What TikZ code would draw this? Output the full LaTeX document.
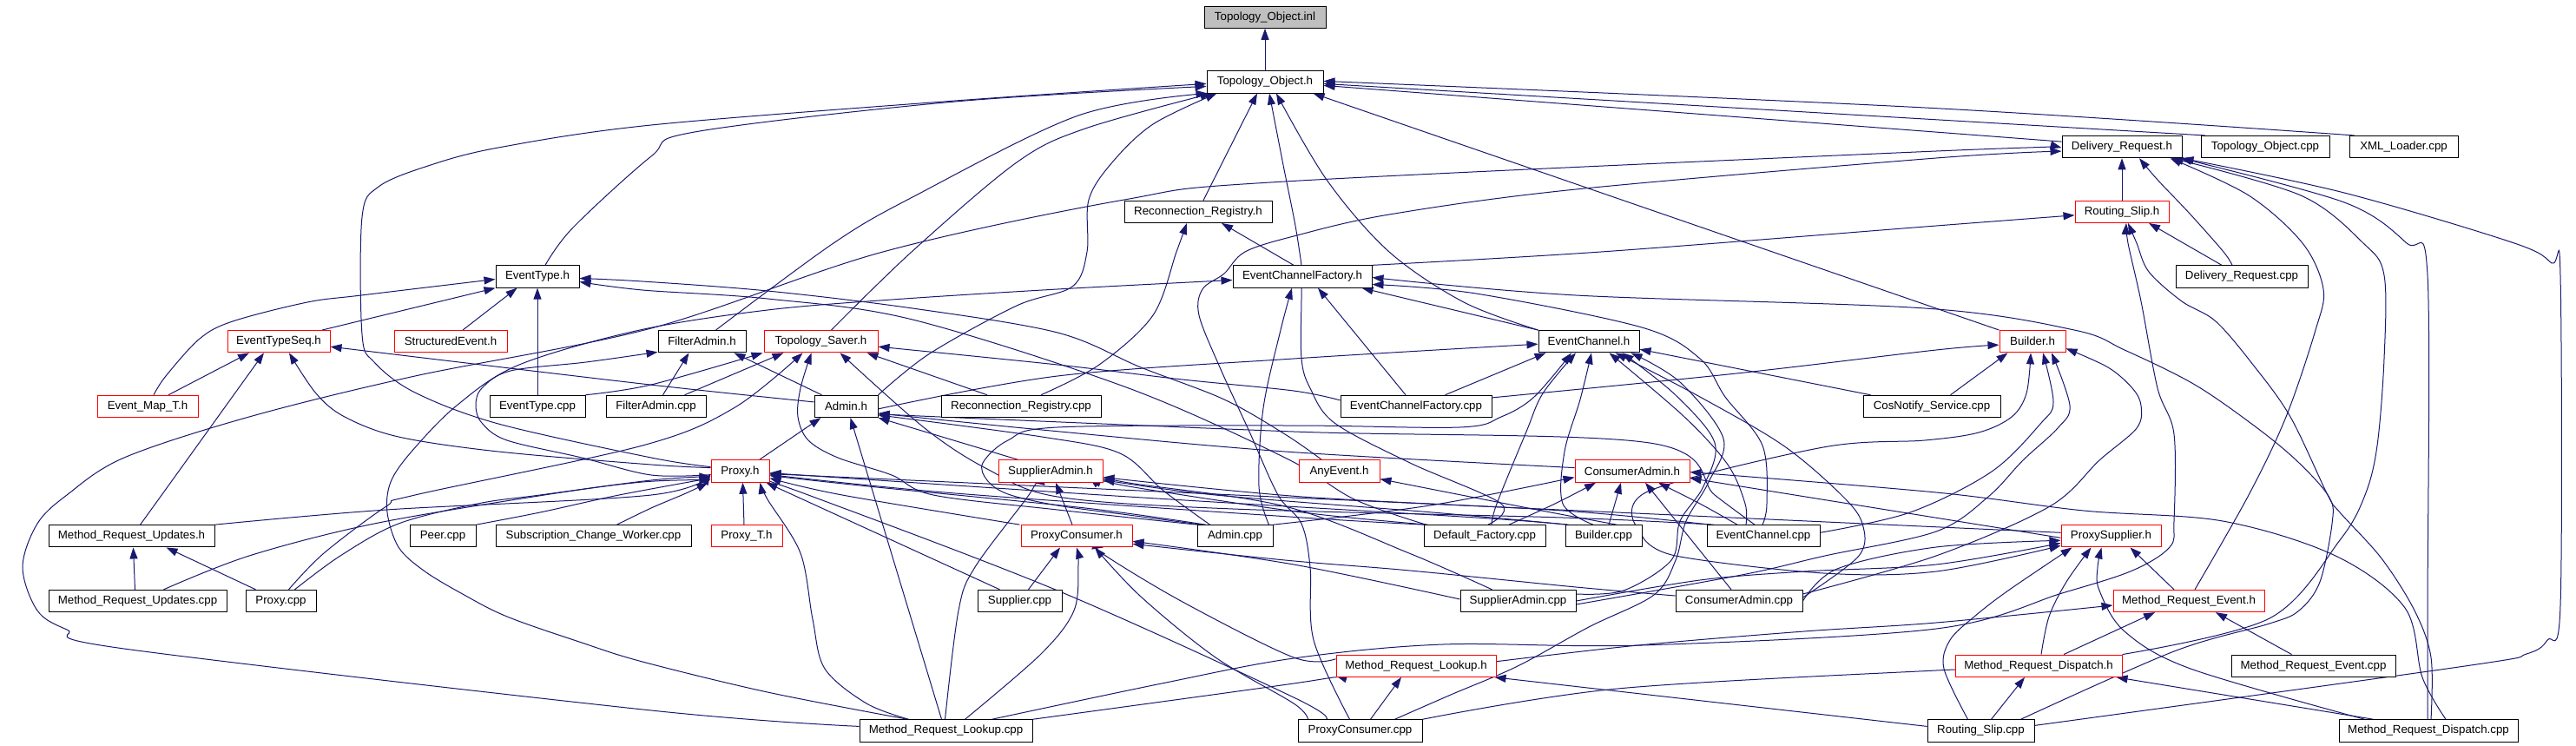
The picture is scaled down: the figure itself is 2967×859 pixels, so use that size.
\documentclass[tikz,border=0pt]{standalone}
\usepackage{fontspec}
\setmainfont{Liberation Sans}
\usetikzlibrary{arrows.meta}
\definecolor{edgec}{HTML}{191970}
\definecolor{rootfill}{HTML}{BFBFBF}
\pgfdeclarelayer{bg}
\pgfsetlayers{bg,main}
\tikzset{
  nb/.style={draw=black, line width=1pt, fill=white, minimum height=25.3pt, inner sep=0pt, font=\fontsize{13.3}{16}\selectfont},
  rb/.style={nb, draw=red},
  gb/.style={nb, fill=rootfill},
  e/.style={draw=edgec, line width=1pt, -{Triangle[length=13pt,width=9pt]}},
}
\newcommand\nd[6]{\node[#5, minimum width={(#3-#2)*1pt}] (#1) at ({(#2+#3)/2},{19.7+74.7*#4}) {#6};}
\newcommand\E[1]{\draw[e] plot[smooth,tension=0.55] coordinates {#1};}
\begin{document}
\begin{tikzpicture}[x=1pt,y=-1pt]
\useasboundingbox (0,0) rectangle (2967,859);
\nd{inl}{1387}{1527}{0}{gb}{Topology\_Object.inl}
\nd{toh}{1390}{1524}{1}{nb}{Topology\_Object.h}
\nd{drh}{2375}{2513}{2}{nb}{Delivery\_Request.h}
\nd{tocpp}{2535}{2683}{2}{nb}{Topology\_Object.cpp}
\nd{xml}{2706}{2831}{2}{nb}{XML\_Loader.cpp}
\nd{rrh}{1295}{1465}{3}{nb}{Reconnection\_Registry.h}
\nd{rsh}{2390}{2498}{3}{rb}{Routing\_Slip.h}
\nd{eth}{571}{667}{4}{nb}{EventType.h}
\nd{ecfh}{1420}{1580}{4}{nb}{EventChannelFactory.h}
\nd{drcpp}{2506}{2658}{4}{nb}{Delivery\_Request.cpp}
\nd{etsh}{262}{380}{5}{rb}{EventTypeSeq.h}
\nd{seh}{454}{584}{5}{rb}{StructuredEvent.h}
\nd{fah}{758}{859}{5}{nb}{FilterAdmin.h}
\nd{tsh}{880}{1011}{5}{rb}{Topology\_Saver.h}
\nd{ech}{1772}{1888}{5}{nb}{EventChannel.h}
\nd{bh}{2303}{2379}{5}{rb}{Builder.h}
\nd{emt}{112}{228}{6}{rb}{Event\_Map\_T.h}
\nd{etcpp}{564}{674}{6}{nb}{EventType.cpp}
\nd{facpp}{698}{813}{6}{nb}{FilterAdmin.cpp}
\nd{adh}{938}{1011}{6}{nb}{Admin.h}
\nd{rrcpp}{1084}{1268}{6}{nb}{Reconnection\_Registry.cpp}
\nd{ecfcpp}{1544}{1718}{6}{nb}{EventChannelFactory.cpp}
\nd{cns}{2146}{2304}{6}{nb}{CosNotify\_Service.cpp}
\nd{pxh}{819}{886}{7}{rb}{Proxy.h}
\nd{sah}{1150}{1270}{7}{rb}{SupplierAdmin.h}
\nd{aeh}{1496}{1589}{7}{rb}{AnyEvent.h}
\nd{cah}{1814}{1946}{7}{rb}{ConsumerAdmin.h}
\nd{mruh}{56}{247}{8}{nb}{Method\_Request\_Updates.h}
\nd{peer}{472}{548}{8}{nb}{Peer.cpp}
\nd{scw}{571}{796}{8}{nb}{Subscription\_Change\_Worker.cpp}
\nd{pxt}{819}{901}{8}{rb}{Proxy\_T.h}
\nd{pch}{1176}{1304}{8}{rb}{ProxyConsumer.h}
\nd{adcpp}{1379}{1466}{8}{nb}{Admin.cpp}
\nd{dfcpp}{1640}{1780}{8}{nb}{Default\_Factory.cpp}
\nd{bcpp}{1803}{1891}{8}{nb}{Builder.cpp}
\nd{eccpp}{1966}{2096}{8}{nb}{EventChannel.cpp}
\nd{psh}{2374}{2489}{8}{rb}{ProxySupplier.h}
\nd{mrucpp}{56}{261}{9}{nb}{Method\_Request\_Updates.cpp}
\nd{pxcpp}{283}{364}{9}{nb}{Proxy.cpp}
\nd{supcpp}{1126}{1223}{9}{nb}{Supplier.cpp}
\nd{sacpp}{1682}{1815}{9}{nb}{SupplierAdmin.cpp}
\nd{cacpp}{1930}{2076}{9}{nb}{ConsumerAdmin.cpp}
\nd{mreh}{2434}{2608}{9}{rb}{Method\_Request\_Event.h}
\nd{mrlh}{1539}{1723}{10}{rb}{Method\_Request\_Lookup.h}
\nd{mrdh}{2252}{2444}{10}{rb}{Method\_Request\_Dispatch.h}
\nd{mrecpp}{2570}{2759}{10}{nb}{Method\_Request\_Event.cpp}
\nd{mrlcpp}{990}{1189}{11}{nb}{Method\_Request\_Lookup.cpp}
\nd{pccpp}{1495}{1638}{11}{nb}{ProxyConsumer.cpp}
\nd{rscpp}{2220}{2343}{11}{nb}{Routing\_Slip.cpp}
\nd{mrdcpp}{2694}{2900}{11}{nb}{Method\_Request\_Dispatch.cpp}
\begin{pgfonlayer}{bg}
\fill[white] (0,0) rectangle (2967,859);
% to Topology_Object.inl / Topology_Object.h
\draw[e] (toh.north) -- (inl.south);
\draw[e] ([xshift=5pt]tocpp.north west) -- ([yshift=-2pt]toh.east);
\E{([xshift=6pt]xml.north west) (2217,124) ([yshift=1pt]toh.east)}
\draw[e] ([yshift=6pt]drh.west) -- ([yshift=-4pt]toh.east);
\draw[e] ([xshift=6pt]rrh.north) -- ([xshift=-9pt]toh.south);
\E{([xshift=-1pt]ecfh.north) (1492,260) (1478,190) ([xshift=5pt]toh.south)}
\E{(ech.north west) (1686,348) (1600,290) (1528,207) ([xshift=13pt]toh.south)}
\draw[e] (bh.north west) -- ([xshift=-12pt]toh.south east);
\E{([xshift=9pt]eth.north) (660,262) (750,180) (800,152) (1100,117) ([yshift=-5pt]toh.west)}
\E{([yshift=5pt]pxh.west) (750,527) (574,488) (478,452) (431,417) (417,385) (417,250) (436,215) (493,191) (574,170) (750,144) (1100,116) ([yshift=-2pt]toh.west)}
\E{([xshift=16pt]fah.north) (960,280) (1051,227) (1242,133) ([xshift=1pt]toh.south west)}
\E{([xshift=12pt]tsh.north) (1050,290) (1171,187) (1250,148) ([xshift=6pt]toh.south west)}
\E{(adh.north east) (1071,407) (1171,352) (1235,330) (1252,290) (1254,230) (1281,187) (1328,143) ([xshift=12pt]toh.south west)}
% to Delivery_Request.h
\draw[e] (rsh.north) -- (drh.south);
\E{([xshift=-11pt]drcpp.north) (2561,290) (2523,247) (2485,207) ([xshift=20pt]drh.south)}
\E{([xshift=7pt]mreh.north) (2590,570) (2633,480) (2667,380) (2676,333) (2652,280) (2590,225) ([xshift=-14pt]drh.south east)}
\E{(mrdh.north east) (2614,712) (2695,622) (2724,570) (2738,513) (2746,413) (2746,317) (2722,280) (2650,225) ([xshift=-12pt]drh.south east)}
\E{([xshift=-1pt]mrdcpp.north) (2796,700) (2796,317) (2772,280) (2700,233) ([xshift=-2pt]drh.south east)}
\E{([yshift=6pt]rscpp.east) (2839,767) (2910,753) (2934,737) (2949,697) (2949,318) (2939,303) (2896,280) (2700,222) (drh.south east)}
\E{([yshift=5pt]mrlcpp.west) (750,818) (143,747) (77,725) (43,703) (26,653) (43,603) (77,570) (143,527) (287,480) (478,433) (750,378) (1017,290) (1295,230) (1480,209) (2230,174) ([yshift=-1pt]drh.west)}
\E{([xshift=-12pt]pccpp.north) (1513,737) (1509,653) (1499,603) (1472,570) (1439,497) (1405,423) (1381,363) (1385,333) (1410,315) (1434,290) (1490,272) (1600,247) (1815,218) (2230,182) ([yshift=-5pt]drh.west)}
% to Reconnection_Registry.h
\E{([xshift=23pt]rrcpp.north) (1266,420) (1328,363) (1355,290) ([xshift=-13pt]rrh.south)}
\draw[e] ([xshift=-10pt]ecfh.north) -- ([xshift=27pt]rrh.south);
% to Routing_Slip.h
\E{(ecfh.north east) (1844,290) (2230,260) ([yshift=-4pt]rsh.west)}
\draw[e] ([xshift=-23pt]drcpp.north) -- ([xshift=31pt]rsh.south);
\E{([xshift=-47pt]mrlcpp.north east) (1338,787) (1490,758) (1662,742) (1891,743) (2230,724) (2375,683) (2456,657) (2499,630) (2504,600) (2504,500) (2485,447) (2466,347) (2451,280) ([xshift=5pt]rsh.south)}
\E{([xshift=3pt]mrdcpp.north) (2800,757) (2781,703) (2743,643) (2695,590) (2681,570) (2638,480) (2595,420) (2552,370) (2513,347) (2475,313) (2461,280) ([xshift=7pt]rsh.south)}
% to EventType.h
\E{([xshift=7pt]emt.north) (191,433) (230,390) (268,370) (354,348) (416,340) ([yshift=-3pt]eth.west)}
\draw[e] ([xshift=50pt]etsh.north) -- (eth.south west);
\draw[e] ([xshift=14pt]seh.north) -- ([xshift=25pt]eth.south west);
\draw[e] (etcpp.north) -- (eth.south);
\E{([xshift=-20pt]aeh.north) (1480,500) (1410,460) (1314,423) (1218,383) (1051,355) (884,335) (740,324) ([yshift=-2pt]eth.east)}
\E{([xshift=3pt]dfcpp.north west) (1560,575) (1480,527) (1300,447) (1051,368) (884,344) (740,334) ([yshift=-6pt]eth.east)}
% to EventTypeSeq.h
\draw[e] ([xshift=24pt]emt.north) -- ([xshift=-34pt]etsh.south);
\E{([xshift=10pt]mruh.north) (179,580) ([xshift=-17pt]etsh.south)}
\E{([yshift=4pt]pxh.west) (750,535) (574,520) (459,503) (397,480) (364,453) ([xshift=12pt]etsh.south)}
\E{([yshift=5pt]adh.west) (740,442) ([yshift=-6pt]etsh.east)}
% to FilterAdmin.h
\E{([yshift=-4pt]pxh.west) (750,547) (670,527) (584,507) (555,487) (548,467) (555,447) (588,427) (675,417) ([yshift=1pt]fah.south west)}
\draw[e] ([xshift=8pt]facpp.north) -- ([xshift=-15pt]fah.south);
\draw[e] ([xshift=-28pt]adh.north) -- ([xshift=-14pt]fah.south east);
% to Topology_Saver.h
\E{(etcpp.north east) (750,443) ([xshift=-1pt]tsh.south west)}
\draw[e] ([xshift=-25pt]facpp.north east) -- ([xshift=23pt]tsh.south west);
\E{([xshift=9pt]pxcpp.north) (373,637) (445,583) (478,570) (740,513) (845,470) ([xshift=-21pt]tsh.south)}
\E{(adcpp.north west) (1218,587) (1075,570) (1027,547) (965,527) (931,507) (919,480) (922,447) ([xshift=-11pt]tsh.south)}
\draw[e] ([xshift=-39pt]rrcpp.north) -- ([xshift=-13pt]tsh.south east);
\E{([yshift=7pt]ecfcpp.west) (1490,450) (1362,437) (1218,420) ([yshift=-6pt]tsh.east)}
\E{([xshift=8pt]eccpp.north west) (1800,596) (1420,586) (1218,572) (1137,540) (1065,493) ([xshift=22pt]tsh.south)}
% to EventChannelFactory.h
\E{([xshift=56pt]mrlcpp.north west) (884,797) (740,762) (670,740) (584,710) (531,683) (488,657) (459,630) (446,590) (450,555) (474,520) (526,467) (598,420) (737,380) (884,357) (1027,345) (1218,333) ([yshift=-4pt]ecfh.west)}
\draw[e] ([xshift=-12pt]ecfcpp.north) -- ([xshift=18pt]ecfh.south);
\draw[e] (ech.north west) -- ([xshift=-12pt]ecfh.south east);
\E{([xshift=-1pt]eccpp.north) (2035,580) (2030,513) (1987,457) (1958,413) (1891,377) (1700,338) ([yshift=-9pt]ecfh.east)}
\E{([xshift=-16pt]rscpp.north east) (2504,750) (2614,718) (2648,703) (2672,670) (2686,603) (2683,573) (2648,533) (2600,493) (2528,443) (2447,403) (2389,380) (2217,355) (1815,340) ([yshift=-1pt]ecfh.east)}
\E{([xshift=4pt]dfcpp.north) (1729,580) (1624,533) (1537,487) (1509,447) (1499,413) (1499,343) ([xshift=-1pt]ecfh.south)}
\E{([xshift=-5pt]adcpp.north east) (1450,560) (1455,470) (1475,380) ([xshift=-12pt]ecfh.south)}
% to EventChannel.h
\E{([yshift=-3pt]adh.east) (1218,433) (1490,413) ([yshift=-3pt]ech.west)}
\draw[e] ([xshift=-54pt]ecfcpp.north east) -- ([xshift=9pt]ech.south west);
\draw[e] ([xshift=9pt]cns.north west) -- ([yshift=-9pt]ech.east);
\E{([xshift=5pt]adcpp.north west) (1300,593) (1218,582) (1161,569) (1137,553) (1132,533) (1161,507) (1218,492) (1490,490) (1681,492) (1729,480) (1767,457) ([xshift=-20pt]ech.south)}
\E{([xshift=8pt]dfcpp.north) (1724,580) (1758,497) (1777,453) ([xshift=-15pt]ech.south)}
\E{([xshift=-12pt]bcpp.north) (1800,580) (1802,520) (1820,460) ([xshift=3pt]ech.south)}
\E{([xshift=-20pt]eccpp.north) (2010,580) (1990,535) (1940,480) ([xshift=-35pt]ech.south east)}
\E{([yshift=4pt]cacpp.east) (2141,640) (2145,603) (2121,570) (2054,513) (1958,457) ([xshift=-28pt]ech.south east)}
\E{([yshift=8pt]sacpp.east) (1870,680) (1925,645) (1935,600) (1962,560) (1975,510) (1930,455) ([xshift=-20pt]ech.south east)}
\E{([xshift=40pt]pccpp.north) (1671,800) (1748,767) (1830,722) (1905,685) (1930,645) (1942,600) (1968,555) (1985,505) (1935,440) ([xshift=-10pt]ech.south east)}
% to Builder.h
\E{([yshift=10pt]ecfcpp.east) (2000,430) (2230,403) ([yshift=-4pt]bh.west)}
\draw[e] ([xshift=-58pt]cns.north east) -- ([xshift=10pt]bh.south west);
\E{([xshift=-8pt]bcpp.north east) (1900,565) (2100,515) (2217,507) (2279,498) (2317,480) (2334,453) ([xshift=-2pt]bh.south)}
\E{([yshift=4pt]eccpp.east) (2200,590) (2294,543) (2351,487) (2365,463) ([xshift=12pt]bh.south)}
\E{([yshift=-4pt]sacpp.east) (2006,662) (2102,640) (2230,612) (2290,572) (2330,530) (2370,493) (2384,467) ([xshift=22pt]bh.south)}
\E{([yshift=8pt]cacpp.east) (2230,640) (2361,583) (2418,530) (2461,493) (2466,467) (2456,447) (2428,423) ([yshift=-8pt]bh.east)}
% to Admin.h
\draw[e] ([xshift=-12pt]pxh.north east) -- ([xshift=8pt]adh.south west);
\draw[e] ([xshift=-5pt]mrlcpp.north) -- ([xshift=5pt]adh.south);
\E{([xshift=-37pt]sah.north) (1075,500) (adh.south east)}
\E{([yshift=4pt]cah.west) (1480,520) (1200,495) ([yshift=-8pt]adh.east)}
\E{([xshift=15pt]adcpp.north west) (1340,565) (1290,522) (1200,503) ([yshift=-10pt]adh.east)}
\E{([xshift=-10pt]eccpp.north) (1975,570) (1900,510) (1490,497) ([yshift=-9pt]adh.east)}
% to Proxy.h
\E{(mruh.north east) (445,587) (750,570) ([yshift=-3pt]pxh.west)}
\E{([xshift=16pt]pxcpp.north) (392,640) (459,603) (550,580) (622,570) (750,553) ([yshift=-6pt]pxh.west)}
\E{(peer.north east) (622,590) (713,570) ([yshift=-8pt]pxh.west)}
\E{([xshift=27pt]scw.north) (750,585) (790,568) ([xshift=-3pt]pxh.south west)}
\E{([xshift=30pt]mrucpp.north) (287,640) (431,603) (627,570) (740,555) ([yshift=-10pt]pxh.west)}
\draw[e] ([xshift=-3pt]pxt.north) -- ([xshift=3pt]pxh.south);
\E{([xshift=-43pt]mrlcpp.north) (998,810) (950,770) (936,713) (922,637) (884,575) ([xshift=23pt]pxh.south)}
\draw[e] ([xshift=-23pt]supcpp.north) -- ([xshift=-4pt]pxh.south east);
\E{([xshift=33pt]pccpp.north west) (1490,803) (1218,680) (931,570) ([xshift=-1pt]pxh.south east)}
\E{([xshift=-1pt]pch.north west) (970,570) ([yshift=-8pt]pxh.east)}
\draw[e] ([yshift=4pt]psh.west) -- ([yshift=-3pt]pxh.east);
\E{([xshift=10pt]adcpp.north west) (1250,585) (1000,560) ([yshift=-5pt]pxh.east)}
\E{([xshift=2pt]dfcpp.north west) (1500,596) (1100,568) ([yshift=-4pt]pxh.east)}
\E{([xshift=2pt]bcpp.north west) (1700,596) (1300,572) ([yshift=-2pt]pxh.east)}
% to SupplierAdmin.h / ConsumerAdmin.h
\E{([xshift=-1pt]mrlcpp.north) (1104,703) (1123,653) (1185,570) ([xshift=-20pt]sah.south)}
\draw[e] ([xshift=-5pt]pch.north) -- ([xshift=6pt]sah.south);
\E{([xshift=-30pt]sacpp.north) (1623,637) (1480,583) (1300,556) ([yshift=-5pt]sah.east)}
\E{([xshift=5pt]dfcpp.north west) (1500,590) (1300,560) ([yshift=-8pt]sah.east)}
\E{([xshift=4pt]bcpp.north west) (1650,590) (1400,570) ([yshift=-10pt]sah.east)}
\E{([xshift=4pt]eccpp.north west) (1800,588) (1500,572) ([yshift=-7pt]sah.east)}
\draw[e] ([yshift=-2pt]psh.west) -- ([yshift=-8pt]cah.east);
\draw[e] ([xshift=-9pt]cacpp.north) -- ([xshift=15pt]cah.south);
\draw[e] ([xshift=6pt]bcpp.north) -- ([xshift=-13pt]cah.south);
\E{([xshift=28pt]dfcpp.north) (1791,580) ([xshift=-42pt]cah.south)}
\E{([xshift=-30pt]eccpp.north) (1958,580) ([xshift=30pt]cah.south)}
\E{([xshift=20pt]mrdcpp.north) (2790,780) (2770,700) (2690,640) (2560,600) (2400,588) (2230,567) ([yshift=-1pt]cah.east)}
\E{(adcpp.north east) (1647,582) ([yshift=-7pt]cah.west)}
% to AnyEvent.h
\E{([xshift=15pt]bcpp.north) (1760,585) ([yshift=-9pt]aeh.east)}
% to ProxyConsumer.h
\draw[e] ([xshift=10pt]supcpp.north) -- ([xshift=-19pt]pch.south);
\E{([xshift=22pt]mrlcpp.north) (1199,753) (1237,703) (1242,650) (pch.south)}
\E{([xshift=-60pt]pccpp.north) (1490,810) (1400,757) (1314,687) ([xshift=21pt]pch.south)}
\E{([yshift=8pt]mrlh.west) (1490,757) (1362,693) (1269,637) ([xshift=31pt]pch.south)}
\E{([yshift=2pt]sacpp.west) (1490,650) ([yshift=-6pt]pch.east)}
\E{([yshift=6pt]cacpp.west) (1815,676) (1624,657) (1480,645) ([yshift=-9pt]pch.east)}
% to Method_Request_Updates.h
\draw[e] ([xshift=-3pt]mrucpp.north) -- ([xshift=2pt]mruh.south);
\draw[e] ([xshift=-29pt]pxcpp.north) -- ([xshift=40pt]mruh.south);
% to Method_Request_Event.h
\draw[e] ([xshift=-25pt]mrecpp.north) -- ([xshift=31pt]mreh.south);
\draw[e] ([xshift=29pt]mrdh.north) -- ([xshift=-39pt]mreh.south);
\E{([yshift=5pt]mrlh.east) (1887,743) (2078,727) (2230,717) ([yshift=-5pt]mreh.west)}
% to Method_Request_Dispatch.h
\draw[e] ([xshift=12pt]rscpp.north) -- ([xshift=-16pt]mrdh.south);
\draw[e] ([xshift=40pt]mrdcpp.north west) -- ([xshift=-7pt]mrdh.south east);
\E{(pccpp.north east) (1863,793) (2230,772) ([yshift=-6pt]mrdh.west)}
% to Method_Request_Lookup.h
\draw[e] ([xshift=12pt]pccpp.north) -- ([xshift=-17pt]mrlh.south);
\E{(mrlcpp.north east) (1490,787) ([yshift=2pt]mrlh.south west)}
\draw[e] ([yshift=5pt]rscpp.west) -- ([xshift=-2pt]mrlh.south east);
% to ProxySupplier.h
\E{([xshift=-15pt]rscpp.north) (2239,770) (2246,737) (2274,710) (2313,680) ([xshift=13pt]psh.south west)}
\E{([xshift=3pt]mrdh.north) (2360,710) (2380,670) ([xshift=-23pt]psh.south)}
\E{([xshift=30pt]mrdcpp.north west) (2523,770) (2447,727) (2418,680) (2416,653) ([xshift=-11pt]psh.south)}
\draw[e] ([xshift=-17pt]mreh.north) -- ([xshift=22pt]psh.south);
\E{(cacpp.east) (2116,655) (2230,630) ([yshift=-5pt]psh.west)}
\E{(sacpp.east) (1958,668) (2078,658) (2230,650) ([yshift=-8pt]psh.west)}
\E{(bcpp.east) (1930,640) (2100,660) (2230,658) ([yshift=-11pt]psh.west)}
\end{pgfonlayer}
\end{tikzpicture}
\end{document}
